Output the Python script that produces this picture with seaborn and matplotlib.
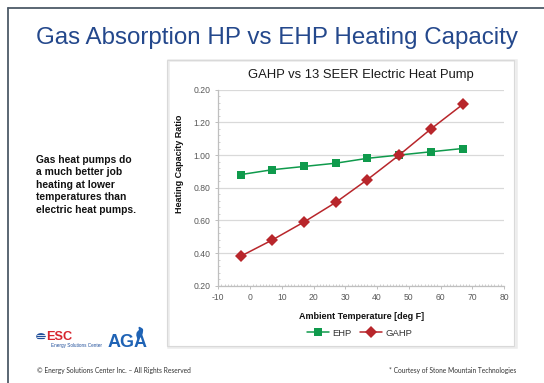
import numpy as np
import pandas as pd
import matplotlib
matplotlib.use("Agg")
import matplotlib.pyplot as plt
import seaborn as sns
from matplotlib.patches import Rectangle, Circle, PathPatch
from matplotlib.lines import Line2D
from matplotlib.path import Path
from matplotlib.ticker import MultipleLocator

# Ambient temperature [deg F] and heating capacity ratios
temps = [-3, 7, 17, 27, 37, 47, 57, 67]
ehp = [0.88, 0.91, 0.93, 0.95, 0.98, 1.00, 1.02, 1.04]
gahp = [0.38, 0.48, 0.59, 0.71, 0.85, 1.00, 1.16, 1.31]
series_names = ["EHP", "GAHP"]
y_ticks = [0.20, 0.40, 0.60, 0.80, 1.00, 1.20, 1.40]
y_tick_labels = ["0.20", "0.40", "0.60", "0.80", "1.00", "1.20", "0.20"]
x_ticks = [-10, 0, 10, 20, 30, 40, 50, 60, 70, 80]

df = pd.DataFrame({
    "temp": temps * 2,
    "ratio": ehp + gahp,
    "series": [series_names[0]] * len(temps) + [series_names[1]] * len(temps),
})

GREEN = "#0f9a4c"
RED = "#b8262b"
BLUE = "#24488c"

sns.set_theme(style="white")
plt.rcParams["font.family"] = ["Liberation Sans", "DejaVu Sans"]

W, H = 544, 383
fig = plt.figure(figsize=(W / 100, H / 100), dpi=100)
fig.patch.set_facecolor("white")


def fx(px):
    return px / W


def fy(py):
    return 1 - py / H


# slide frame (left and top edges)
fig.add_artist(Line2D([fx(8), fx(8)], [fy(7.5), 0], color="#4d5a68", lw=1.3))
fig.add_artist(Line2D([fx(8), 1], [fy(7.5), fy(7.5)], color="#4d5a68", lw=1.3))

fig.text(fx(277), fy(38), "Gas Absorption HP vs EHP Heating Capacity",
         ha="center", va="center", fontsize=17.4, color=BLUE)

# chart area box with soft shadow
fig.add_artist(Rectangle((fx(167.5), fy(347)), fx(348), 287.5 / H,
                         transform=fig.transFigure, facecolor="none",
                         edgecolor="#ececec", lw=1.8))
fig.add_artist(Rectangle((fx(166.5), fy(346)), fx(347.5), 286.5 / H,
                         transform=fig.transFigure, facecolor="none",
                         edgecolor="#d9d9d9", lw=0.8))

fig.text(fx(361), fy(75), "GAHP vs 13 SEER Electric Heat Pump",
         ha="center", va="center", fontsize=9.4, color="#1a1a1a")

fig.text(fx(36), fy(155), "Gas heat pumps do\na much better job\nheating at lower\n"
         "temperatures than\nelectric heat pumps.",
         ha="left", va="top", fontsize=7.4, fontweight="bold",
         color="#111111", linespacing=1.3)

ax = fig.add_axes([fx(218.3), 1 - 285.7 / H, (504 - 218.3) / W, (285.7 - 89.7) / H])
sns.lineplot(data=df, x="temp", y="ratio", hue="series", style="series",
             markers={"EHP": "s", "GAHP": "D"}, dashes=False,
             palette={"EHP": GREEN, "GAHP": RED}, ax=ax, linewidth=1.1,
             markersize=6, markeredgewidth=0, legend=False)
for ln in ax.lines:
    if ln.get_marker() == "D":
        ln.set_markersize(6.0)
    else:
        ln.set_markersize(5.6)

ax.set_xlim(-10, 80)
ax.set_ylim(0.2, 1.4)
ax.set_xticks(x_ticks)
ax.set_xticklabels([str(t) for t in x_ticks])
ax.set_yticks(y_ticks)
ax.set_yticklabels(y_tick_labels)
ax.xaxis.set_minor_locator(MultipleLocator(1))
ax.yaxis.set_minor_locator(MultipleLocator(0.04))
ax.grid(axis="y", which="major", color="#d9d9d9", lw=0.9)
ax.grid(axis="x", visible=False)
ax.set_axisbelow(True)
for side in ("top", "right"):
    ax.spines[side].set_visible(False)
for side in ("left", "bottom"):
    ax.spines[side].set_color("#bfbfbf")
    ax.spines[side].set_linewidth(0.9)
ax.tick_params(axis="both", which="major", direction="out", length=2.5,
               width=0.7, color="#bfbfbf", labelsize=6.2, labelcolor="#595959",
               left=True, bottom=True, pad=3)
ax.tick_params(axis="both", which="minor", direction="in", length=1.5,
               width=0.6, color="#c8c8c8", left=True, bottom=True)
ax.set_facecolor("white")

ax.set_xlabel("Ambient Temperature [deg F]", fontsize=6.5, fontweight="bold",
              color="#111111")
ax.xaxis.set_label_coords(0.5, -(312.3 - 285.7) / 196)
ax.set_ylabel("Heating Capacity Ratio", fontsize=6.5, fontweight="bold",
              color="#111111")
ax.yaxis.set_label_coords((184 - 218.3) / 285.7, (285.7 - 164) / 196)

handles = [Line2D([], [], color=GREEN, marker="s", markersize=5.6, lw=1.1,
                  markeredgewidth=0),
           Line2D([], [], color=RED, marker="D", markersize=6.0, lw=1.1,
                  markeredgewidth=0)]
fig.legend(handles, series_names, loc="center", bbox_to_anchor=(fx(360), fy(333)),
           ncol=2, frameon=False, fontsize=6.8, handlelength=2.3,
           handletextpad=0.4, columnspacing=0.9, labelcolor="#333333")

# logos
fig.add_artist(Circle((fx(41), fy(336.5)), 4.8 / W, transform=fig.transFigure,
                      facecolor="#1f4e9a", edgecolor="none"))
for dy in (-2.0, 0, 2.0):
    fig.add_artist(Line2D([fx(36.5), fx(45.5)], [fy(336.5 + dy), fy(336.5 + dy)],
                          color="white", lw=0.6))
fig.text(fx(46), fy(337), "ESC", ha="left", va="center", fontsize=9.2,
         fontweight="bold", color="#d7262f")
fig.text(fx(51), fy(345.5), "Energy Solutions Center", ha="left", va="center",
         fontsize=3.3, color="#1f4e9a")
fig.text(fx(127.5), fy(342.5), "AGA", ha="center", va="center", fontsize=13,
         fontweight="bold", color="#1f63b5")
flame = Path([(fx(138), fy(340)), (fx(134), fy(333)), (fx(139), fy(330)),
              (fx(137), fy(324)), (fx(143), fy(329)), (fx(144), fy(335)),
              (fx(138), fy(340))],
             [Path.MOVETO, Path.CURVE3, Path.CURVE3, Path.CURVE3, Path.CURVE3,
              Path.CURVE3, Path.CURVE3])
fig.add_artist(PathPatch(flame, transform=fig.transFigure, facecolor="#1f63b5",
                         edgecolor="none"))

fig.text(fx(37), fy(370), "\u00a9 Energy Solutions Center Inc. \u2013 All Rights Reserved",
         ha="left", va="center", fontsize=4.8, color="#333333", family=["Lato", "DejaVu Sans"])
fig.text(fx(516), fy(370), "* Courtesy of Stone Mountain Technologies",
         ha="right", va="center", fontsize=4.8, color="#333333", family=["Lato", "DejaVu Sans"])

fig.savefig("out.png", dpi=100, facecolor="white")
